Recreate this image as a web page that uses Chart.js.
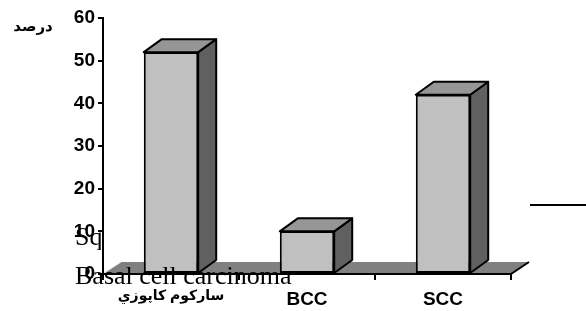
<!DOCTYPE html>
<html>
<head>
<meta charset="utf-8">
<script src="https://cdn.jsdelivr.net/npm/chart.js@4"></script>
<style>
  html, body { margin: 0; padding: 0; background: #fff; }
  #wrap { width: 586px; height: 311px; position: relative; }
</style>
</head>
<body>
<div id="wrap"><canvas id="chart"></canvas></div>
<script>
// data
var categories = ['ساركوم كاپوزي', 'BCC', 'SCC'];
var percents = [52, 10, 42];
var yTicks = [0, 10, 20, 30, 40, 50, 60];
var yTitle = 'درصد';
var legendNames = ['Squamous cell carcinoma', 'Basal cell carcinoma'];

var DX = 18, DY = 13; // 3d depth of bars
var FLOOR_DY = 12;

function poly(ctx, pts, fill, stroke, lw) {
  ctx.beginPath();
  ctx.moveTo(pts[0][0], pts[0][1]);
  for (var i = 1; i < pts.length; i++) ctx.lineTo(pts[i][0], pts[i][1]);
  ctx.closePath();
  if (fill) { ctx.fillStyle = fill; ctx.fill(); }
  if (stroke) { ctx.strokeStyle = stroke; ctx.lineWidth = lw || 2; ctx.lineJoin = 'round'; ctx.stroke(); }
}

var fake3d = {
  id: 'fake3d',
  beforeDraw: function (chart) {
    var ctx = chart.ctx, a = chart.chartArea;
    ctx.save();
    // leftover legend text, cut off by the plot area
    ctx.beginPath();
    ctx.rect(0, 0, a.left - 2, chart.height);
    ctx.clip();
    ctx.fillStyle = '#000';
    ctx.font = '26px "Liberation Serif", "Times New Roman", serif';
    ctx.textBaseline = 'alphabetic';
    ctx.textAlign = 'left';
    ctx.fillText(legendNames[0], 75, 245);
    ctx.restore();

    // floor
    ctx.save();
    poly(ctx, [[a.left, a.bottom], [a.left + DX, a.bottom - FLOOR_DY],
      [a.right + DX, a.bottom - FLOOR_DY], [a.right, a.bottom]], '#808080');
    ctx.strokeStyle = '#e8e8e8';
    ctx.lineWidth = 1;
    ctx.beginPath();
    ctx.moveTo(a.left + 1, a.bottom - 1);
    ctx.lineTo(a.left + DX, a.bottom - FLOOR_DY);
    ctx.stroke();
    ctx.strokeStyle = '#000';
    ctx.lineWidth = 2;
    ctx.beginPath();
    ctx.moveTo(a.right, a.bottom);
    ctx.lineTo(a.right + DX, a.bottom - FLOOR_DY);
    ctx.stroke();
    ctx.restore();
  },
  afterDatasetsDraw: function (chart) {
    var ctx = chart.ctx;
    var meta = chart.getDatasetMeta(0);
    ctx.save();
    meta.data.forEach(function (bar) {
      var l = bar.x - bar.width / 2, r = bar.x + bar.width / 2;
      var t = bar.y, b = bar.base;
      poly(ctx, [[r, t], [r + DX, t - DY], [r + DX, b - DY], [r, b]], '#606060', '#000', 2);
      poly(ctx, [[l, t], [l + DX, t - DY], [r + DX, t - DY], [r, t]], '#969696', '#000', 2);
    });
    ctx.restore();
  },
  afterDraw: function (chart) {
    var ctx = chart.ctx;
    ctx.save();
    ctx.fillStyle = '#000';
    ctx.font = '26px "Liberation Serif", "Times New Roman", serif';
    ctx.textAlign = 'left';
    ctx.textBaseline = 'alphabetic';
    ctx.fillText(legendNames[1], 75, 284);

    ctx.font = 'bold 15px Arial, "DejaVu Sans", sans-serif';
    ctx.textAlign = 'center';
    ctx.textBaseline = 'middle';
    ctx.fillText(yTitle, 33, 27);

    // stray line at the right
    ctx.strokeStyle = '#000';
    ctx.lineWidth = 2;
    ctx.beginPath();
    ctx.moveTo(530, 205);
    ctx.lineTo(586, 205);
    ctx.stroke();
    ctx.restore();
  }
};

new Chart(document.getElementById('chart'), {
  type: 'bar',
  data: {
    labels: categories,
    datasets: [{
      data: percents,
      backgroundColor: '#c0c0c0',
      borderColor: '#000',
      borderWidth: 2,
      borderSkipped: false,
      barPercentage: 0.4,
      categoryPercentage: 1
    }]
  },
  options: {
    responsive: true,
    maintainAspectRatio: false,
    animation: false,
    layout: { padding: { top: 18, right: 75, left: 0, bottom: 0 } },
    plugins: { legend: { display: false }, tooltip: { enabled: false } },
    scales: {
      x: {
        grid: { display: true, drawOnChartArea: false, drawTicks: true, tickLength: 6, color: '#000', lineWidth: 2 },
        border: { display: true, color: '#000', width: 2 },
        ticks: {
          color: '#000', padding: 8, maxRotation: 0, autoSkip: false,
          font: function (c) {
            // the arabic label is set smaller than the latin ones
            return { family: 'Arial, "DejaVu Sans", sans-serif', size: c.index === 0 ? 14 : 19, weight: 'bold' };
          }
        },
        afterFit: function (s) { s.height = 37; }
      },
      y: {
        min: 0, max: 60,
        afterBuildTicks: function (s) { s.ticks = yTicks.map(function (v) { return { value: v }; }); },
        grid: { display: true, drawOnChartArea: false, drawTicks: true, tickLength: 5, color: '#000', lineWidth: 2 },
        border: { display: true, color: '#000', width: 2 },
        ticks: { color: '#000', padding: 3, font: { family: 'Arial, sans-serif', size: 19, weight: 'bold' } },
        afterFit: function (s) { s.width = 103; }
      }
    }
  },
  plugins: [fake3d]
});
</script>
</body>
</html>
